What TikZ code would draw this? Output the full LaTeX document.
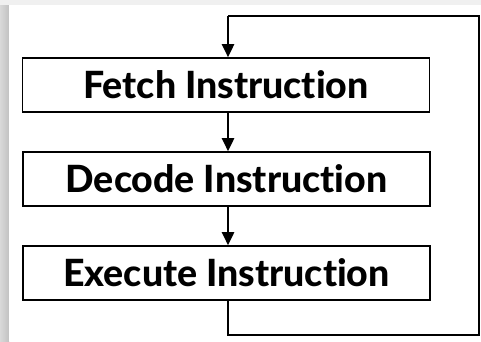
\documentclass[tikz,border=0pt]{standalone}
\usepackage{fontspec}
\setmainfont{Lato}[Ligatures=NoCommon,BoldFont={Lato Heavy}]
\usetikzlibrary{arrows.meta}
\begin{document}
\begin{tikzpicture}[x=1pt,y=-1pt,
  stagebox/.style={draw=black,line width=1.6pt,fill=white,minimum width=407pt,
    minimum height=54pt,inner sep=0pt,
    font=\fontsize{37.5}{41}\selectfont\bfseries},
  flow/.style={line width=2.6pt,-{Triangle[length=13pt,width=12pt]}},
  loopline/.style={line width=2.6pt}]
  % page background and soft shadow on the left and top edges
  \useasboundingbox (0,0) rectangle (481,341);
  \fill[gray!12] (0,0) rectangle (481,341);
  \shade[left color=gray!30,right color=gray!48] (0,5) rectangle (9,341);
  \fill[white] (9,5) rectangle (481,341);

  % the three stages
  \node[stagebox] (fetch)  at (226,85)  {Fetch Instruction};
  \node[stagebox] (decode) at (226.5,179) {Decode Instruction};
  \node[stagebox] (exec)   at (226.5,273) {Execute Instruction};

  % straight-through arrows
  \draw[flow] ([xshift=2pt]fetch.south) -- ([xshift=1.5pt]decode.north);
  \draw[flow] ([xshift=1.5pt]decode.south) -- ([xshift=1.5pt]exec.north);

  % loop back from execute to fetch
  \coordinate (rb) at (479,335);
  \coordinate (rt) at (479,16);
  \coordinate (lt) at (228,16);
  \draw[loopline,line join=miter] ([xshift=1.5pt]exec.south) |- (rb) -- (rt) -- (lt);
  \draw[flow] (lt) -- ([xshift=2pt]fetch.north);
\end{tikzpicture}
\end{document}
